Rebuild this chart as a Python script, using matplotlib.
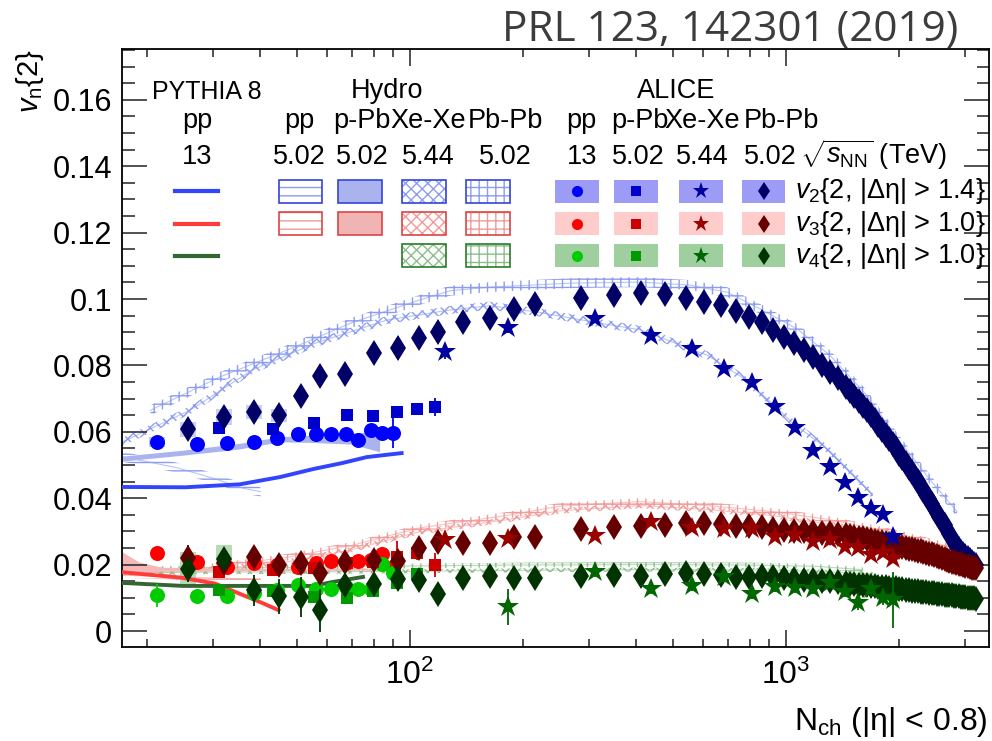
import numpy as np
import matplotlib.pyplot as plt
from matplotlib.patches import Rectangle
from matplotlib.lines import Line2D
from matplotlib.ticker import (LogLocator, LogFormatterMathtext, NullFormatter,
                               MultipleLocator, FuncFormatter)

plt.rcParams['font.family'] = ['Liberation Sans', 'DejaVu Sans']
plt.rcParams['mathtext.fontset'] = 'custom'
plt.rcParams['mathtext.rm'] = 'Liberation Sans'
plt.rcParams['mathtext.it'] = 'Liberation Sans:italic'
plt.rcParams['hatch.linewidth'] = 1.0

# ---------------- ALICE data ----------------
# pp 13 TeV
nch_pp = [21.2, 27.2, 32.6, 38.5, 44.3, 50.4, 56.2, 61.7, 67.6, 72.8, 78.7, 84.3, 90.1]
v2_pp = [0.0569, 0.0563, 0.0566, 0.0569, 0.0581, 0.0593, 0.0593, 0.0593, 0.0593, 0.0575, 0.0605, 0.0596, 0.0596]
v2_pp_err = [0.001, 0.0008, 0.0008, 0.0008, 0.0008, 0.0008, 0.0008, 0.0008, 0.001, 0.001, 0.0015, 0.002, 0.0045]
v3_pp = [0.0235, 0.0208, 0.0193, 0.0205, 0.0199, 0.0193, 0.0205, 0.0212, 0.0205, 0.0212, 0.0213, 0.0232, 0.0193]
v3_pp_err = [0.001, 0.001, 0.001, 0.001, 0.001, 0.001, 0.001, 0.001, 0.001, 0.001, 0.0015, 0.002, 0.003]
v4_pp = [0.0108, 0.0105, 0.0105, 0.0114, 0.0125, 0.0139, 0.0126, 0.0126, 0.0133, 0.0126, 0.0128, 0.0202, 0.0175]
v4_pp_err = [0.0035, 0.0015, 0.0015, 0.0015, 0.0015, 0.0015, 0.0015, 0.0015, 0.0015, 0.0015, 0.002, 0.002, 0.003]

# p-Pb 5.02 TeV
nch_ppb = [31.0, 43.3, 55.6, 68.0, 79.8, 92.3, 104.4, 116.5]
v2_ppb = [0.0611, 0.0608, 0.0626, 0.0651, 0.0648, 0.0660, 0.0669, 0.0675]
v2_ppb_err = [0.0008, 0.0008, 0.0008, 0.0008, 0.0008, 0.001, 0.0012, 0.0028]
v3_ppb = [0.0178, 0.0184, 0.0190, 0.0205, 0.0208, 0.0222, 0.0235, 0.0199]
v3_ppb_err = [0.001, 0.001, 0.001, 0.0015, 0.0015, 0.005, 0.002, 0.0035]
nch_ppb_v4 = [31.0, 43.3, 55.6, 68.0, 79.8, 92.3, 104.4]
v4_ppb = [0.0123, 0.0121, 0.0102, 0.0099, 0.0120, 0.0146, 0.0173]

# Xe-Xe 5.44 TeV
nch_xe = [124, 182, 310, 437, 562, 684, 812, 935, 1057, 1180, 1310, 1436, 1553, 1682, 1811, 1927]
v2_xe = [0.0840, 0.0913, 0.0940, 0.0889, 0.0850, 0.0789, 0.0747, 0.0675, 0.0611, 0.0542,
         0.0494, 0.0446, 0.0400, 0.0367, 0.0349, 0.0283]
v2_xe_err = [0.002, 0.0015, 0.001, 0.001, 0.001, 0.001, 0.001, 0.001, 0.001, 0.001,
             0.001, 0.001, 0.001, 0.001, 0.001, 0.0025]
v3_xe = [0.0274, 0.0277, 0.0286, 0.0328, 0.0310, 0.0307, 0.0307, 0.0283, 0.0289, 0.0268,
         0.0274, 0.0253, 0.0250, 0.0229, 0.0235, 0.0217]
nch_xe_v4 = [182, 310, 437, 562, 684, 812, 935, 1057, 1180, 1310, 1436, 1553, 1682, 1811, 1927]
v4_xe = [0.0072, 0.0178, 0.0126, 0.0136, 0.0163, 0.0111, 0.0133, 0.0130, 0.0126, 0.0144,
         0.0117, 0.0084, 0.0126, 0.0099, 0.0093]
v4_xe_err = [0.0055, 0.0015, 0.0015, 0.0015, 0.0015, 0.0015, 0.0015, 0.0015, 0.0015, 0.0015,
             0.0015, 0.002, 0.002, 0.002, 0.0085]

# Pb-Pb 5.02 TeV
nch_pb = [25.7, 32.0, 38.5, 44.9, 51.3, 57.7, 67.2, 80.2, 92.9, 105.6, 118.7, 138, 163, 189, 215,
          285, 349, 411, 476, 542, 605, 672, 736, 798, 864, 923, 988, 1050, 1117, 1180, 1247,
          1310, 1375, 1445,
          1480, 1520, 1560, 1600, 1640, 1680, 1720, 1760, 1800, 1840, 1880, 1920, 1960, 2000,
          2040, 2080, 2120, 2160, 2200, 2240, 2280, 2320, 2360, 2400, 2440, 2480, 2520, 2560,
          2600, 2640, 2680, 2720, 2760, 2800, 2840, 2880, 2920, 2960, 3000, 3040, 3080, 3120,
          3160, 3200]
v2_pb = [0.0608, 0.0645, 0.0660, 0.0650, 0.0708, 0.0768, 0.0774, 0.0837, 0.0852, 0.0883, 0.0900,
         0.0931, 0.0943, 0.0970, 0.0985, 0.1003, 0.1012, 0.1018, 0.1015, 0.1003, 0.0991, 0.0982,
         0.0964, 0.0946, 0.0931, 0.0907, 0.0886, 0.0867, 0.0846, 0.0825, 0.0801, 0.0780, 0.0762,
         0.0735,
         0.0722, 0.0708, 0.0692, 0.0678, 0.0665, 0.0650, 0.0635, 0.0621, 0.0606, 0.0590, 0.0577,
         0.0563, 0.0550, 0.0532, 0.0520, 0.0506, 0.0492, 0.0480, 0.0465, 0.0451, 0.0438, 0.0424,
         0.0411, 0.0397, 0.0384, 0.0370, 0.0357, 0.0343, 0.0330, 0.0318, 0.0305, 0.0292, 0.0280,
         0.0268, 0.0257, 0.0247, 0.0239, 0.0232, 0.0225, 0.0219, 0.0213, 0.0208, 0.0203, 0.0199]
v3_pb = [0.0220, 0.0205, 0.0223, 0.0199, 0.0205, 0.0175, 0.0208, 0.0214, 0.0211, 0.0250, 0.0268,
         0.0265, 0.0265, 0.0283, 0.0283, 0.0307, 0.0313, 0.0316, 0.0319, 0.0325, 0.0325, 0.0322,
         0.0316, 0.0316, 0.0313, 0.0307, 0.0305, 0.0302, 0.0300, 0.0298, 0.0296, 0.0295, 0.0292,
         0.0290,
         0.0287, 0.0284, 0.0281, 0.0279, 0.0276, 0.0274, 0.0271, 0.0269, 0.0267, 0.0264, 0.0262,
         0.0259, 0.0257, 0.0254, 0.0252, 0.0250, 0.0248, 0.0246, 0.0244, 0.0242, 0.0240, 0.0238,
         0.0236, 0.0233, 0.0231, 0.0228, 0.0226, 0.0223, 0.0221, 0.0218, 0.0215, 0.0212, 0.0209,
         0.0207, 0.0205, 0.0203, 0.0201, 0.0199, 0.0197, 0.0195, 0.0193, 0.0191, 0.0190, 0.0189]
v4_pb = [0.0187, 0.0217, 0.0123, 0.0105, 0.0102, 0.0063, 0.0139, 0.0142, 0.0157, 0.0154, 0.0111,
         0.0160, 0.0166, 0.0160, 0.0160, 0.0166, 0.0169, 0.0166, 0.0172, 0.0175, 0.0172, 0.0169,
         0.0163, 0.0163, 0.0166, 0.0163, 0.0160, 0.0157, 0.0155, 0.0153, 0.0151, 0.0150, 0.0148,
         0.0146,
         0.0143, 0.0142, 0.0140, 0.0139, 0.0138, 0.0136, 0.0135, 0.0134, 0.0133, 0.0132, 0.0131,
         0.0130, 0.0129, 0.0127, 0.0126, 0.0125, 0.0124, 0.0122, 0.0121, 0.0120, 0.0119, 0.0118,
         0.0117, 0.0116, 0.0115, 0.0114, 0.0113, 0.0112, 0.0111, 0.0110, 0.0109, 0.0108, 0.0108,
         0.0107, 0.0106, 0.0105, 0.0104, 0.0103, 0.0102, 0.0101, 0.0100, 0.0100, 0.0099, 0.0098]
# statistical errors of the lowest Pb-Pb bins (rest hidden under the markers)
nch_pb_low = [25.7, 32.0, 38.5, 44.9, 51.3, 57.7, 67.2]
v2_pb_low_err = [0.002, 0.0015, 0.0012, 0.0012, 0.001, 0.001, 0.001]
v3_pb_low_err = [0.004, 0.002, 0.002, 0.002, 0.002, 0.002, 0.002]
v4_pb_low_err = [0.004, 0.003, 0.0047, 0.0053, 0.006, 0.0065, 0.003]
# systematic boxes for a few low multiplicity points
v2_pb_sys = [0.0023, 0.0023, 0.002, 0.002]
v4_pb_sys = [0.0052, 0.0041]

# ---------------- PYTHIA 8 pp 13 TeV ----------------
nch_py_v2 = [17.2, 25.2, 35.3, 45.2, 55.3, 66, 76.8, 95]
v2_py = [0.0434, 0.0433, 0.0442, 0.0464, 0.0488, 0.0506, 0.0524, 0.0536]
nch_py_v3 = [17.2, 24.6, 30.3, 34.6, 40, 44.7]
v3_py = [0.0177, 0.0161, 0.0143, 0.0116, 0.0087, 0.0063]
nch_py_v4 = [17.2, 24.9, 35, 55.3, 62.4, 75]
v4_py = [0.0145, 0.0136, 0.0136, 0.0136, 0.0148, 0.0163]

# ---------------- Hydro ----------------
nch_hy_pp = [17.2, 20, 24, 30, 36, 40]
v2_hy_pp = [0.0525, 0.0510, 0.0492, 0.0460, 0.0430, 0.0420]
v3_hy_pp = [0.0168, 0.0166, 0.0163, 0.0160, 0.0157, 0.0155]

nch_hy_ppb = [17.2, 25, 35, 45, 55, 70, 83]
v2_hy_ppb_lo = [0.0512, 0.0530, 0.0548, 0.0570, 0.0568, 0.0563, 0.0540]
v2_hy_ppb_hi = [0.0527, 0.0545, 0.0565, 0.0585, 0.0590, 0.0597, 0.0600]
nch_hy_ppb3 = [17.2, 19, 22, 30, 45, 60, 83]
v3_hy_ppb_lo = [0.0175, 0.0177, 0.0180, 0.0181, 0.0182, 0.0183, 0.0183]
v3_hy_ppb_hi = [0.0238, 0.0208, 0.0192, 0.0190, 0.0189, 0.0190, 0.0190]

nch_hy_pb2 = [20.4, 31.2, 47.1, 70.5, 106, 128, 163, 271, 409, 555, 700, 870, 1070, 1310, 1640,
              2010, 2460, 2850]
v2_hy_pb = [0.0665, 0.0765, 0.0846, 0.0930, 0.0997, 0.1025, 0.1036, 0.1048, 0.1051, 0.1042,
            0.1020, 0.0965, 0.0910, 0.0830, 0.0710, 0.0570, 0.0445, 0.0360]
nch_hy_xe2 = [17.2, 26, 38, 56, 87, 128, 163, 220, 310, 410, 500, 620, 760, 890, 1044, 1300,
              1560, 1700]
v2_hy_xe = [0.0570, 0.0665, 0.0786, 0.0867, 0.0937, 0.0967, 0.0980, 0.0960, 0.0930, 0.0907,
            0.0870, 0.0830, 0.0766, 0.0700, 0.0626, 0.0545, 0.0455, 0.0410]
nch_hy_pb3 = [26, 47, 70, 105, 180, 250, 410, 620, 920, 1300, 1930, 2700]
v3_hy_pb = [0.0185, 0.0222, 0.0258, 0.0310, 0.0348, 0.0376, 0.0390, 0.0378, 0.0360, 0.0336,
            0.0297, 0.0255]
nch_hy_xe3 = [17.2, 26, 47, 70, 105, 180, 250, 410, 620, 920, 1300, 1700]
v3_hy_xe = [0.0175, 0.0178, 0.0208, 0.0245, 0.0298, 0.0335, 0.0362, 0.0378, 0.0366, 0.0348,
            0.0322, 0.0300]
nch_hy_pb4 = [20, 50, 100, 200, 400, 800, 1200, 1600]
v4_hy_pb = [0.0188, 0.0192, 0.0196, 0.0199, 0.0200, 0.0199, 0.0195, 0.0185]
nch_hy_xe4 = [17.2, 50, 100, 200, 400, 800, 1200, 1700]
v4_hy_xe = [0.0177, 0.0178, 0.0180, 0.0183, 0.0185, 0.0184, 0.0180, 0.0172]

# ---------------- colours ----------------
c_py = ['#3344ff', '#ff3b3b', '#336633']
c_pp = ['#0000ff', '#ff0000', '#00cc00']
c_ppb = ['#0000cc', '#cc0000', '#009900']
c_xe = ['#0000a0', '#990000', '#006600']
c_pb = ['#000066', '#660000', '#003300']
c_hy = ['#8c9cf0', '#f29a9a', '#8cbf8c']
c_hy_edge = ['#3344dd', '#dd4444', '#2a7a2a']
c_box = ['#9c9cf6', '#ffcccc', '#9fcf9f']

W, H = 992, 741
fig = plt.figure(figsize=(W / 100, H / 100), dpi=100)
ax = fig.add_axes([122 / W, 1 - 647 / H, (989 - 122) / W, (647 - 49) / H])
ax.set_xscale('log')
ax.set_xlim(17.14, 3467)
ax.set_ylim(-0.0048, 0.1753)


def band(x, y, half, color, hatch, z=1):
    y = np.asarray(y)
    ax.fill_between(x, y - half, y + half, facecolor='none', edgecolor=color,
                    hatch=hatch, lw=0, zorder=z)
    ax.plot(x, y, color=color, lw=0.8, alpha=0.6, zorder=z)


def sys_boxes(x, y, dy, color):
    for xi, yi, di in zip(x, y, dy):
        ax.add_patch(Rectangle((xi / 1.05, yi - di), xi * 1.05 - xi / 1.05, 2 * di,
                               facecolor=color, edgecolor='none', alpha=0.75, zorder=2))


# hydro calculations
band(nch_hy_pb2, v2_hy_pb, 0.0015, c_hy[0], '++')
band(nch_hy_xe2, v2_hy_xe, 0.0012, c_hy[0], 'xxx')
band(nch_hy_pb3, v3_hy_pb, 0.0010, c_hy[1], '++')
band(nch_hy_xe3, v3_hy_xe, 0.0008, c_hy[1], 'xxx')
band(nch_hy_pb4, v4_hy_pb, 0.0007, c_hy[2], '++')
band(nch_hy_xe4, v4_hy_xe, 0.0006, c_hy[2], 'xxx')
band(nch_hy_pp, v2_hy_pp, 0.0015, c_hy[0], '--')
band(nch_hy_pp, v3_hy_pp, 0.0008, c_hy[1], '--')
ax.fill_between(nch_hy_ppb, v2_hy_ppb_lo, v2_hy_ppb_hi, color='#aab3ee', lw=0, zorder=1.5)
ax.fill_between(nch_hy_ppb3, v3_hy_ppb_lo, v3_hy_ppb_hi, color='#f4b8b8', lw=0, zorder=1.5)

# PYTHIA 8
ax.plot(nch_py_v2, v2_py, color=c_py[0], lw=2.8, zorder=3)
ax.plot(nch_py_v3, v3_py, color=c_py[1], lw=2.8, zorder=3)
ax.plot(nch_py_v4, v4_py, color=c_py[2], lw=2.8, zorder=3)

# systematic boxes
sys_boxes(nch_pp[:1], v2_pp[:1], [0.0016], '#aab3ee')
sys_boxes(nch_pb[:4], v2_pb[:4], v2_pb_sys, '#b8bff0')
sys_boxes(nch_pb[:2], v4_pb[:2], v4_pb_sys, '#9fcf9f')

ebkw = dict(ls='none', capsize=0, elinewidth=1.3, mew=0)
ms_o, ms_s, ms_d, ms_star = 10.8, 9.2, 12.8, 16.5
# pp
ax.errorbar(nch_pp, v2_pp, yerr=v2_pp_err, marker='o', ms=ms_o, color=c_pp[0], zorder=4, **ebkw)
ax.errorbar(nch_pp, v3_pp, yerr=v3_pp_err, marker='o', ms=ms_o, color=c_pp[1], zorder=4, **ebkw)
ax.errorbar(nch_pp, v4_pp, yerr=v4_pp_err, marker='o', ms=ms_o, color=c_pp[2], zorder=4, **ebkw)
# p-Pb
ax.errorbar(nch_ppb, v2_ppb, yerr=v2_ppb_err, marker='s', ms=ms_s, color=c_ppb[0], zorder=5, **ebkw)
ax.errorbar(nch_ppb, v3_ppb, yerr=v3_ppb_err, marker='s', ms=ms_s, color=c_ppb[1], zorder=5, **ebkw)
ax.errorbar(nch_ppb_v4, v4_ppb, marker='s', ms=ms_s, color=c_ppb[2], zorder=5, **ebkw)
# Pb-Pb
ax.errorbar(nch_pb_low, v2_pb[:7], yerr=v2_pb_low_err, color=c_pb[0], zorder=6, **ebkw)
ax.errorbar(nch_pb_low, v3_pb[:7], yerr=v3_pb_low_err, color=c_pb[1], zorder=6, **ebkw)
ax.errorbar(nch_pb_low, v4_pb[:7], yerr=v4_pb_low_err, color=c_pb[2], zorder=6, **ebkw)
ax.plot(nch_pb, v2_pb, 'd', ms=ms_d, color=c_pb[0], mew=0, zorder=6)
ax.plot(nch_pb, v3_pb, 'd', ms=ms_d, color=c_pb[1], mew=0, zorder=6)
ax.plot(nch_pb, v4_pb, 'd', ms=ms_d, color=c_pb[2], mew=0, zorder=6)
# Xe-Xe
ax.errorbar(nch_xe, v2_xe, yerr=v2_xe_err, marker='*', ms=ms_star, color=c_xe[0], zorder=7, **ebkw)
ax.errorbar(nch_xe, v3_xe, marker='*', ms=ms_star, color=c_xe[1], zorder=7, **ebkw)
ax.errorbar(nch_xe_v4, v4_xe, yerr=v4_xe_err, marker='*', ms=ms_star, color=c_xe[2], zorder=7, **ebkw)

# axes styling
ax.xaxis.set_major_locator(LogLocator(base=10, numticks=10))
ax.xaxis.set_minor_locator(LogLocator(base=10, subs=np.arange(2, 10), numticks=10))
ax.xaxis.set_major_formatter(LogFormatterMathtext())
ax.xaxis.set_minor_formatter(NullFormatter())
ax.yaxis.set_major_locator(MultipleLocator(0.02))
ax.yaxis.set_minor_locator(MultipleLocator(0.005))
ax.yaxis.set_major_formatter(FuncFormatter(lambda v, p: '%g' % round(v, 3) if abs(v) > 1e-9 else '0'))
ax.tick_params(which='both', direction='in', top=True, right=True, width=1.1, color='#222222')
ax.tick_params(axis='x', which='major', length=12.5, labelsize=23, pad=9)
ax.tick_params(axis='x', which='minor', length=6)
ax.tick_params(axis='y', which='major', length=18, labelsize=22, pad=7)
ax.tick_params(axis='y', which='minor', length=9)
for s in ax.spines.values():
    s.set_linewidth(1.3)

fig.text(30 / W, 1 - 49 / H, r'$v_{\mathrm{n}}${2}', rotation=90, ha='center', va='top', fontsize=21)
fig.text(988 / W, 1 - 730 / H, r'N$_{\mathrm{ch}}$ (|η| < 0.8)', ha='right', va='baseline', fontsize=23)

# journal reference, sized to span x = 502 .. 958 px
ref = fig.text(958 / W, 1 - 41 / H, 'PRL 123, 142301 (2019)', ha='right', va='baseline',
               family=['Open Sans', 'DejaVu Sans'], fontsize=28, color='#3c3c3c')
renderer = fig.canvas.get_renderer()
ref_w = ref.get_window_extent(renderer).width
ref.set_fontsize(28 * 456 / ref_w)


# ---------------- legend block ----------------
def fx(x):
    return x / W


def fy(y):
    return 1 - y / H


def ftext(x, y, s, size=19.5, ha='center'):
    fig.text(fx(x), fy(y), s, ha=ha, va='baseline', fontsize=size)


def fbox(x0, x1, yc, face, edge=None, hatch=None, hatch_color=None, alpha=1.0):
    h = 23
    if hatch is not None:
        fig.add_artist(Rectangle((fx(x0), fy(yc + h / 2)), (x1 - x0) / W, h / H, transform=fig.transFigure,
                                 facecolor='white', edgecolor=hatch_color, hatch=hatch, lw=0))
    fig.add_artist(Rectangle((fx(x0), fy(yc + h / 2)), (x1 - x0) / W, h / H, transform=fig.transFigure,
                             facecolor=face, edgecolor=edge if edge else 'none', lw=1.2, alpha=alpha))


rows = [191, 223.5, 255.5]

ftext(207, 99, 'PYTHIA 8', size=18)
ftext(197, 128, 'pp')
ftext(197, 164, '13')
for i, yr in enumerate(rows):
    fig.add_artist(Line2D([fx(175), fx(218)], [fy(yr), fy(yr)], color=c_py[i], lw=3,
                          transform=fig.transFigure))

ftext(387, 98, 'Hydro')
hy_cols = [(279, 322), (338, 382), (402, 446), (466, 510)]
for (lx, lab, en) in [(299, 'pp', '5.02'), (362, 'p-Pb', '5.02'), (428, 'Xe-Xe', '5.44'), (505, 'Pb-Pb', '5.02')]:
    ftext(lx, 128, lab)
    ftext(lx, 164, en)
hy_hatch = ['--', None, 'xxx', '++']
ppb_face = ['#aab3ee', '#f0b4b4', None]
for i, yr in enumerate(rows):
    for j, (x0, x1) in enumerate(hy_cols):
        if i == 2 and j < 2:
            continue
        if j == 1:
            fbox(x0, x1, yr, ppb_face[i], edge=c_hy_edge[i])
        else:
            fbox(x0, x1, yr, 'none', edge=c_hy_edge[i], hatch=hy_hatch[j], hatch_color=c_hy[i])

ftext(676, 98, 'ALICE')
for (lx, lab) in [(581, 'pp'), (640, 'p-Pb'), (702, 'Xe-Xe'), (781, 'Pb-Pb')]:
    ftext(lx, 128, lab)
for (lx, en) in [(582, '13'), (638, '5.02'), (702, '5.44'), (770, '5.02')]:
    ftext(lx, 164, en)
ftext(800, 164, r'$\sqrt{s_{\mathrm{NN}}}$ (TeV)', ha='left')

al_cols = [(555, 599), (614, 658), (679, 723), (742, 785)]
al_mark = [('o', 8), ('s', 7), ('*', 12.5), ('d', 9.5)]
al_cols_c = [c_pp, c_ppb, c_xe, c_pb]
for i, yr in enumerate(rows):
    for j, (x0, x1) in enumerate(al_cols):
        fbox(x0, x1, yr, c_box[i])
        m, ms = al_mark[j]
        fig.add_artist(Line2D([fx((x0 + x1) / 2)], [fy(yr)], marker=m, ms=ms, mew=0, ls='none',
                              color=al_cols_c[j][i], transform=fig.transFigure))

ftext(795, 198, r'$v_{2}${2, |Δη| > 1.4}', ha='left')
ftext(795, 231, r'$v_{3}${2, |Δη| > 1.0}', ha='left')
ftext(795, 263, r'$v_{4}${2, |Δη| > 1.0}', ha='left')

fig.savefig('out.png', dpi=100)
